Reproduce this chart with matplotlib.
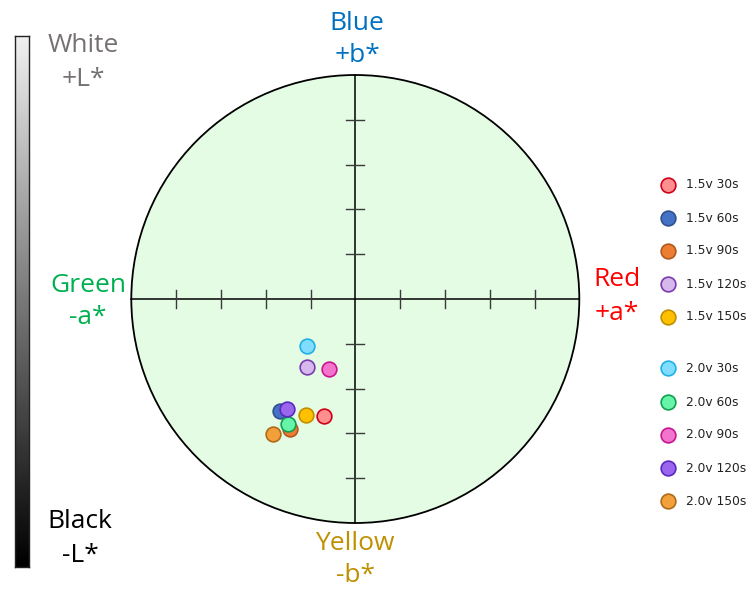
import numpy as np
import matplotlib
matplotlib.use("Agg")
import matplotlib.pyplot as plt
from matplotlib.patches import Circle

# ---- data (a*, b* in chart units; one tick = 1 unit) ----
labels = ["1.5v 30s", "1.5v 60s", "1.5v 90s", "1.5v 120s", "1.5v 150s",
          "2.0v 30s", "2.0v 60s", "2.0v 90s", "2.0v 120s", "2.0v 150s"]
a_vals = [-0.70, -1.68, -1.46, -1.08, -1.10,
          -1.08, -1.50, -0.58, -1.52, -1.83]
b_vals = [-2.61, -2.49, -2.91, -1.52, -2.60,
          -1.05, -2.80, -1.56, -2.45, -3.01]
face_colors = ["#FF8F8F", "#4472C4", "#ED7D31", "#D6B8EC", "#FFC000",
               "#80DDFF", "#66F5A8", "#F274CD", "#9A66EE", "#F2A03A"]
edge_colors = ["#D00018", "#2F528F", "#B05A20", "#7A3AB0", "#C09000",
               "#20B0E8", "#10A050", "#C8158F", "#5A28C0", "#B06A18"]

W, H = 749, 593
fig = plt.figure(figsize=(W / 100, H / 100), dpi=100)

# main axes covering the whole figure; 1 unit = 44.8 px, origin at (355.3, 299) px
cx, cy, unit = 355.3, 299.0, 44.8
ax = fig.add_axes([0, 0, 1, 1])
ax.set_xlim(-cx / unit, (W - cx) / unit)
ax.set_ylim(-(H - cy) / unit, cy / unit)
ax.axis("off")

R = 5
ax.add_patch(Circle((0, 0), R, facecolor="#E4FCE4", edgecolor="black", lw=1.3, zorder=1))
ax.plot([-R, R], [0, 0], color="black", lw=1.1, zorder=2)
ax.plot([0, 0], [-R, R], color="black", lw=1.1, zorder=2)
tl = 0.2
for t in [-4, -3, -2, -1, 1, 2, 3, 4]:
    ax.plot([t, t], [-tl, tl], color="#3a3a3a", lw=1.0, zorder=2)
    ax.plot([-tl, tl], [t, t], color="#3a3a3a", lw=1.0, zorder=2)

for a, b, fc, ec in zip(a_vals, b_vals, face_colors, edge_colors):
    ax.scatter(a, b, s=112, facecolor=fc, edgecolor=ec, linewidths=1.2, zorder=3)

# direction labels
def px(x, y):
    return ((x - cx) / unit, (cy - y) / unit)

lab_kw = dict(ha="center", va="center", fontsize=19, family="Open Sans")
ax.text(*px(357, 23), "Blue", color="#0070C0", **lab_kw)
ax.text(*px(357, 56), "+b*", color="#0070C0", **lab_kw)
ax.text(*px(355, 543), "Yellow", color="#BF9000", **lab_kw)
ax.text(*px(355, 576), "-b*", color="#BF9000", **lab_kw)
ax.text(*px(88, 285), "Green", color="#00B050", **lab_kw)
ax.text(*px(88, 318), "-a*", color="#00B050", **lab_kw)
ax.text(*px(617, 280), "Red", color="#FF0000", **lab_kw)
ax.text(*px(617, 313), "+a*", color="#FF0000", **lab_kw)
ax.text(*px(83, 45), "White", color="#767171", **lab_kw)
ax.text(*px(83, 79), "+L*", color="#767171", **lab_kw)
ax.text(*px(80, 522), "Black", color="black", **lab_kw)
ax.text(*px(80, 556), "-L*", color="black", **lab_kw)

# lightness bar
bar = fig.add_axes([15 / W, 1 - 567 / H, 14 / W, (567 - 36) / H])
grad = np.linspace(0.94, 0.0, 256).reshape(-1, 1)
bar.imshow(grad, aspect="auto", cmap="gray", vmin=0, vmax=1,
           extent=[0, 1, 0, 1], origin="upper")
bar.set_xticks([]); bar.set_yticks([])
for s in bar.spines.values():
    s.set_color("#222222"); s.set_linewidth(1.0)

# legend
leg_y = [185, 218, 251, 284, 317, 368, 402, 435, 468, 501]
for lab, y, fc, ec in zip(labels, leg_y, face_colors, edge_colors):
    ax.scatter(*px(668, y), s=112, facecolor=fc, edgecolor=ec, linewidths=1.2, zorder=3)
    ax.text(*px(686, y), lab, ha="left", va="center", fontsize=8.8,
            family="DejaVu Sans", color="#222222")

fig.savefig("out.png", dpi=100)
